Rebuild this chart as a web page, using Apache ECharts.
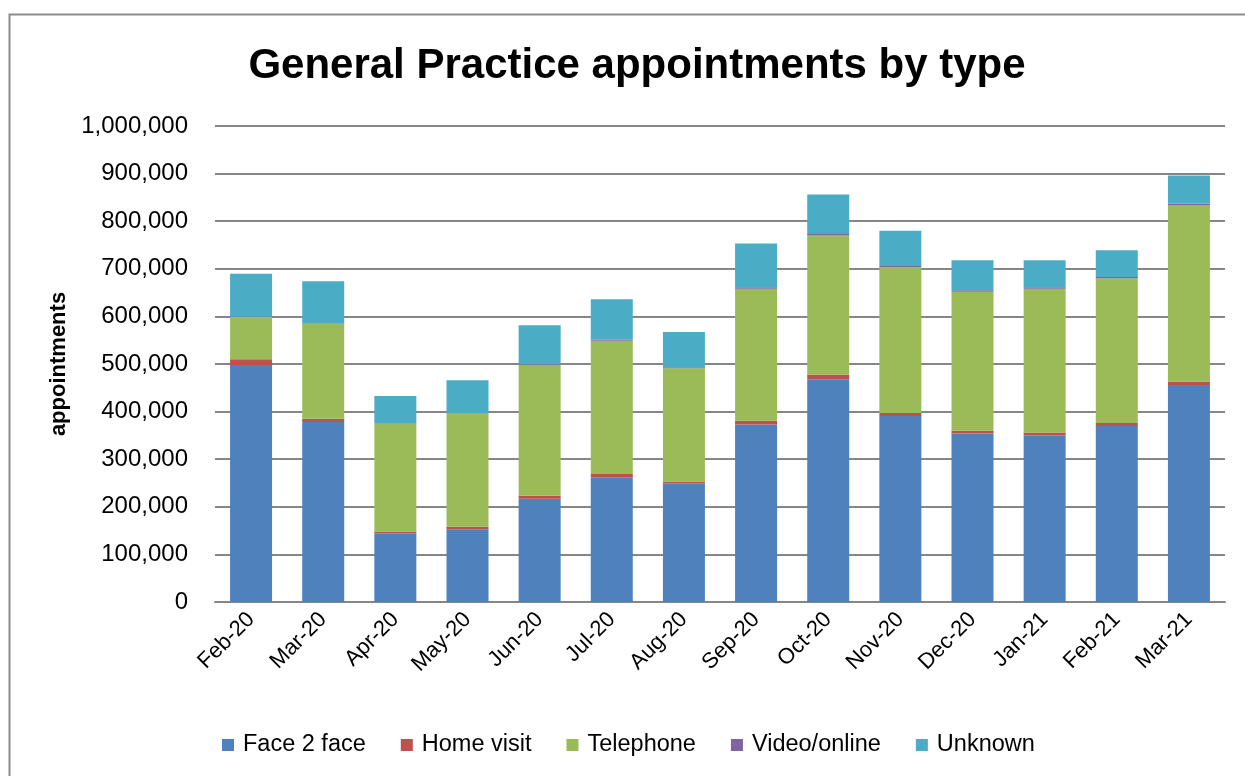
<!DOCTYPE html>
<html>
<head>
<meta charset="utf-8">
<script src="https://cdn.jsdelivr.net/npm/echarts@6/dist/echarts.min.js"></script>
<style>
html,body{margin:0;padding:0;background:#fff;}
#chart{width:1245px;height:776px;}
</style>
</head>
<body>
<div id="chart"></div>
<script>
const categories = ["Feb-20","Mar-20","Apr-20","May-20","Jun-20","Jul-20","Aug-20","Sep-20","Oct-20","Nov-20","Dec-20","Jan-21","Feb-21","Mar-21"];
const faceToFace = [498000,378000,144000,153000,217000,262000,249000,373000,468000,391000,354000,350000,370000,456000];
const homeVisit  = [12000,7000,4000,5000,6000,7000,4000,8000,10000,6000,6000,6000,6000,7000];
const telephone  = [89000,199000,226000,237000,275000,280000,238000,277000,292000,306000,292000,302000,304000,370000];
const videoOnline= [500,1000,1000,1000,1500,2000,2000,3000,3000,3000,3000,3000,3000,4000];
const unknown    = [90000,89000,58000,70000,82000,85000,74000,92000,83000,74000,63000,57000,56000,59000];
const seriesNames = ["Face 2 face","Home visit","Telephone","Video/online","Unknown"];
const seriesColors = ["#4F81BD","#C0504D","#9BBB59","#8064A2","#4BACC6"];

const chart = echarts.init(document.getElementById('chart'));
const dataSets = [faceToFace, homeVisit, telephone, videoOnline, unknown];
const FONT = "Liberation Sans";
chart.setOption({
  animation: false,
  backgroundColor: '#fff',
  title: {
    text: 'General Practice appointments by type',
    left: 632, top: 40, textAlign: 'center',
    textStyle: {fontFamily: FONT, fontWeight: 'bold', fontSize: 42, color: '#000'}
  },
  graphic: [{
    type: 'rect', left: 7, top: 12, shape: {width: 1300, height: 800},
    style: {fill: 'none', stroke: '#8c8c8c', lineWidth: 2}, silent: true, z: -1
  }],
  grid: {left: 215, right: 20, top: 126, bottom: 174, containLabel: false},
  legend: {
    data: seriesNames, top: 728, left: 217,
    itemWidth: 12, itemHeight: 12, itemGap: 35, icon: 'rect',
    textStyle: {fontFamily: FONT, fontSize: 23.5, color: '#000', padding: [0,0,0,4]}
  },
  xAxis: {
    type: 'category', data: categories,
    axisLine: {show: true, lineStyle: {color: '#868686', width: 2}},
    axisTick: {show: false},
    axisLabel: {rotate: 45, fontFamily: FONT, fontSize: 22, color: '#000', margin: 14, interval: 0}
  },
  yAxis: {
    type: 'value', min: 0, max: 1000000, interval: 100000,
    name: 'appointments', nameLocation: 'middle', nameGap: 143, nameRotate: 90,
    nameTextStyle: {fontFamily: FONT, fontWeight: 'bold', fontSize: 22, color: '#000'},
    axisLine: {show: false}, axisTick: {show: false},
    splitLine: {lineStyle: {color: '#868686', width: 2}},
    axisLabel: {fontFamily: FONT, fontSize: 24, color: '#000', margin: 27,
      formatter: v => v.toLocaleString('en-US')}
  },
  series: dataSets.map((d, i) => ({
    name: seriesNames[i], type: 'bar', stack: 'total', data: d,
    barWidth: 42,
    itemStyle: {color: seriesColors[i]}
  }))
});
</script>
</body>
</html>
